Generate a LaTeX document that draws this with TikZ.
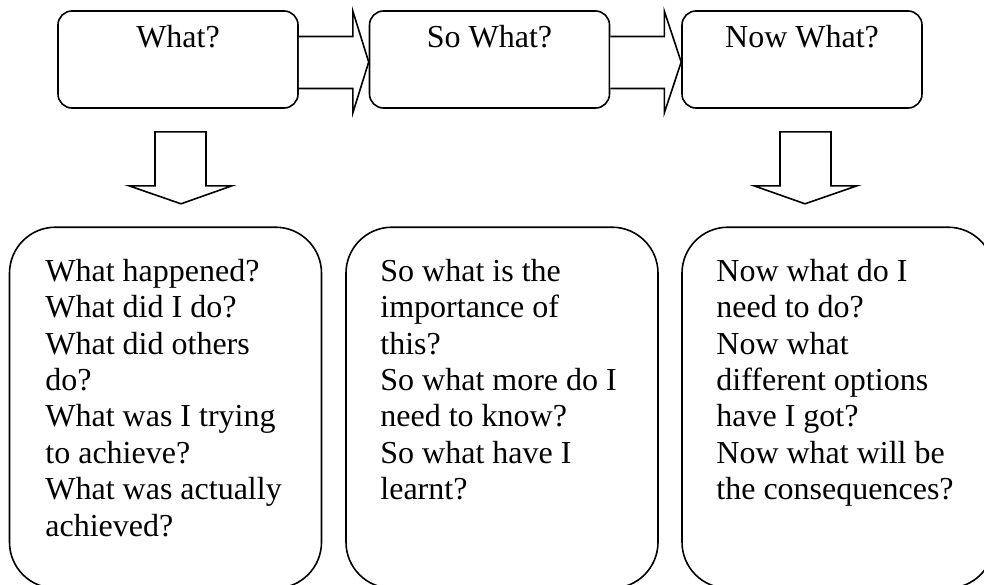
\documentclass[tikz,border=0pt]{standalone}
\usepackage{fontspec}
\setmainfont{Liberation Serif}
\usetikzlibrary{calc}
\tikzset{
  x=0.5pt, y=-0.5pt,
  topbox/.style={draw, line width=0.8pt, rounded corners=7pt, minimum width=120pt, minimum height=48.5pt, inner sep=0pt},
  botbox/.style={draw, line width=0.8pt, rounded corners=23pt, minimum width=156pt, minimum height=180.5pt, inner sep=0pt},
  toptext/.style={anchor=base, inner sep=0pt, font=\fontsize{16}{18.2}\selectfont},
  bodytext/.style={anchor=north west, inner sep=0pt, align=left, font=\fontsize{16}{18.2}\selectfont},
  blockarrow/.style={draw, line width=0.8pt, line join=miter, fill=white},
}
\begin{document}
\begin{tikzpicture}
\useasboundingbox (0,0) rectangle (984,584);
% top boxes
\node[topbox] (w1) at (178,59.5) {};
\node[topbox] (w2) at (489.5,59.5) {};
\node[topbox] (w3) at (802,59.5) {};
\node[toptext] (t1) at (178,47) {What?};
\node[toptext] (t2) at (489.5,47) {So What?};
\node[toptext] (t3) at (802,47) {Now What?};
% bottom boxes
\node[botbox] (b1) at (165.5,407.7) {};
\node[botbox] (b2) at (502,407.7) {};
\node[botbox] (b3) at (838,407.7) {};
\node[bodytext] (q1) at (45,255.5) {\strut What happened?\\What did I do?\\What did others\\do?\\What was I trying\\to achieve?\\What was actually\\achieved?};
\node[bodytext] (q2) at (380,255.5) {\strut So what is the\\importance of\\this?\\So what more do I\\need to know?\\So what have I\\learnt?};
\node[bodytext] (q3) at (716,255.5) {\strut Now what do I\\need to do?\\Now what\\different options\\have I got?\\Now what will be\\the consequences?};
% right block arrows
\draw[blockarrow] ($(w1.east)+(0,-23)$) -- ($(w1.east)+(54,-23)$) -- ($(w1.east)+(54,-48.5)$)
  -- ($(w2.west)+(0,2.5)$) -- ($(w1.east)+(54,53.5)$) -- ($(w1.east)+(54,29)$) -- ($(w1.east)+(0,29)$);
\draw[blockarrow] ($(w2.east)+(0,-23)$) -- ($(w2.east)+(54,-23)$) -- ($(w2.east)+(54,-48.5)$)
  -- ($(w3.west)+(0,2.5)$) -- ($(w2.east)+(54,53.5)$) -- ($(w2.east)+(54,29)$) -- ($(w2.east)+(0,29)$);
% down block arrows
\coordinate (d1) at ($(w1.south)+(3,95)$);
\coordinate (d3) at ($(w3.south)+(3,95)$);
\draw[blockarrow] ($(w1.south)+(-23,23)$) -- ($(w1.south)+(-23,77)$) -- ($(w1.south)+(-49,77)$)
  -- (d1) -- ($(w1.south)+(54,77)$) -- ($(w1.south)+(28,77)$) -- ($(w1.south)+(28,23)$) -- cycle;
\draw[blockarrow] ($(w3.south)+(-22,23)$) -- ($(w3.south)+(-22,77)$) -- ($(w3.south)+(-48,77)$)
  -- (d3) -- ($(w3.south)+(55,77)$) -- ($(w3.south)+(29,77)$) -- ($(w3.south)+(29,23)$) -- cycle;
\end{tikzpicture}
\end{document}
